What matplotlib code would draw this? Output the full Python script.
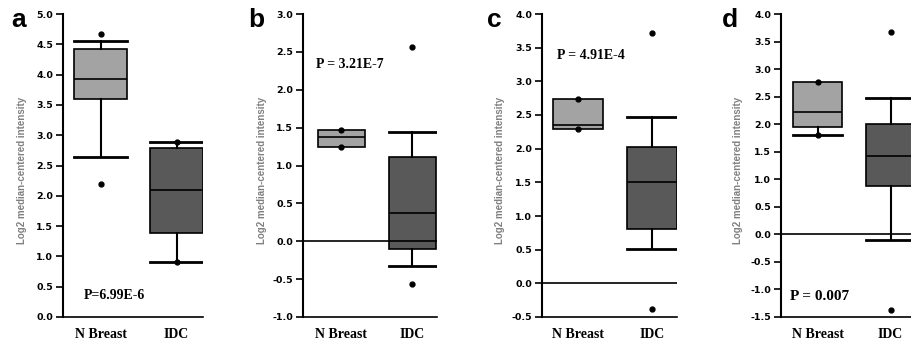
import matplotlib
matplotlib.use("Agg")
import matplotlib.pyplot as plt
import numpy as np

W, H = 911, 341
DPI = 100

categories = ["N Breast", "IDC"]
panel_letters = ["a", "b", "c", "d"]
p_texts = ["P=6.99E-6", "P = 3.21E-7", "P = 4.91E-4", "P = 0.007"]
ylabel = "Log2 median-centered intensity"

# stats per panel: [N Breast, IDC] -> (whislo, q1, med, q3, whishi, fliers)
panel_a = [(2.64, 3.60, 3.93, 4.42, 4.55, [4.67, 2.20]),
           (0.91, 1.38, 2.09, 2.79, 2.89, [2.89, 0.91])]
panel_b = [(1.25, 1.25, 1.38, 1.47, 1.47, [1.47, 1.25]),
           (-0.33, -0.10, 0.37, 1.11, 1.44, [2.57, -0.57])]
panel_c = [(2.29, 2.29, 2.35, 2.74, 2.74, [2.74, 2.29]),
           (0.51, 0.80, 1.51, 2.03, 2.47, [3.72, -0.38])]
panel_d = [(1.81, 1.95, 2.22, 2.76, 2.76, [2.76, 1.81]),
           (-0.10, 0.88, 1.42, 2.00, 2.47, [3.67, -1.37])]
panels = [panel_a, panel_b, panel_c, panel_d]

ylims = [(0.0, 5.0), (-1.0, 3.0), (-0.5, 4.0), (-1.5, 4.0)]
p_pos = [(1.18, 0.36), (1.13, 2.33), (1.18, 3.39), (1.03, -1.12)]
p_size = [10, 10, 10, 11]

# layout in pixels: spine x, N center, IDC center, width(px), right edge
layout = [
    (63, 100.5, 176.5, 53, 203),
    (303, 341, 412.5, 47, 437),
    (542, 578, 652, 50, 677),
    (781, 817.5, 890.5, 49, 916),
]
letter_x = [11, 248, 487, 722]
ylabel_x = [22, 262, 500, 738]

light = "#a3a3a3"
dark = "#595959"

fig = plt.figure(figsize=(W / DPI, H / DPI), dpi=DPI)
top_px, bot_px = 14, 317

for i, (stats, yl) in enumerate(zip(panels, ylims)):
    sx, cn, ci, wpx, rx = layout[i]
    unit = ci - cn
    x0 = 1 - (cn - sx) / unit
    x1 = 2 + (rx - ci) / unit
    ax = fig.add_axes([sx / W, (H - bot_px) / H, (rx - sx) / W, (bot_px - top_px) / H])
    ax.set_xlim(x0, x1)
    ax.set_ylim(*yl)
    w = wpx / unit
    for j, (st, col) in enumerate(zip(stats, [light, dark])):
        lo, q1, med, q3, hi, fl = st
        d = dict(whislo=lo, q1=q1, med=med, q3=q3, whishi=hi, fliers=fl)
        res = ax.bxp([d], positions=[j + 1], widths=w, patch_artist=True,
                     showcaps=True,
                     boxprops=dict(facecolor=col, edgecolor="black", linewidth=1.2),
                     medianprops=dict(color="black", linewidth=1.2),
                     whiskerprops=dict(color="black", linewidth=1.5),
                     capprops=dict(color="black", linewidth=2.0),
                     capwidths=w,
                     flierprops=dict(marker="o", markerfacecolor="black",
                                     markeredgecolor="black", markersize=3.5),
                     manage_ticks=False)
        if lo == q1:
            res["caps"][0].set_visible(False)
            res["whiskers"][0].set_visible(False)
        if hi == q3:
            res["caps"][1].set_visible(False)
            res["whiskers"][1].set_visible(False)
    if yl[0] < 0:
        ax.axhline(0, color="black", linewidth=1.2, zorder=3)
    ax.spines["top"].set_visible(False)
    ax.spines["right"].set_visible(False)
    ax.spines["left"].set_linewidth(1.5)
    ax.spines["bottom"].set_linewidth(1.2)
    ticks = np.arange(yl[0], yl[1] + 0.01, 0.5)
    ax.set_yticks(ticks)
    ax.set_yticklabels([f"{t:.1f}" for t in ticks], fontfamily="DejaVu Sans",
                       fontweight="bold", fontsize=6.8)
    ax.tick_params(axis="y", direction="out", length=5, width=1.2, pad=2)
    ax.set_xticks([1, 2])
    ax.set_xticklabels(categories, fontfamily="Liberation Serif",
                       fontweight="bold", fontsize=10)
    ax.tick_params(axis="x", length=0, pad=8)
    ax.text(p_pos[i][0], p_pos[i][1], p_texts[i], ha="center", va="center",
            fontfamily="Liberation Serif", fontweight="bold", fontsize=p_size[i])
    fig.text(letter_x[i] / W, 1 - 20 / H, panel_letters[i], ha="left", va="center",
             fontfamily="Liberation Sans", fontweight="bold", fontsize=19)
    fig.text(ylabel_x[i] / W, 1 - 170 / H, ylabel, rotation=90, ha="center",
             va="center", fontfamily="Liberation Sans", fontweight="bold",
             fontsize=7, color="#808080")

fig.savefig("out.png", dpi=DPI)
